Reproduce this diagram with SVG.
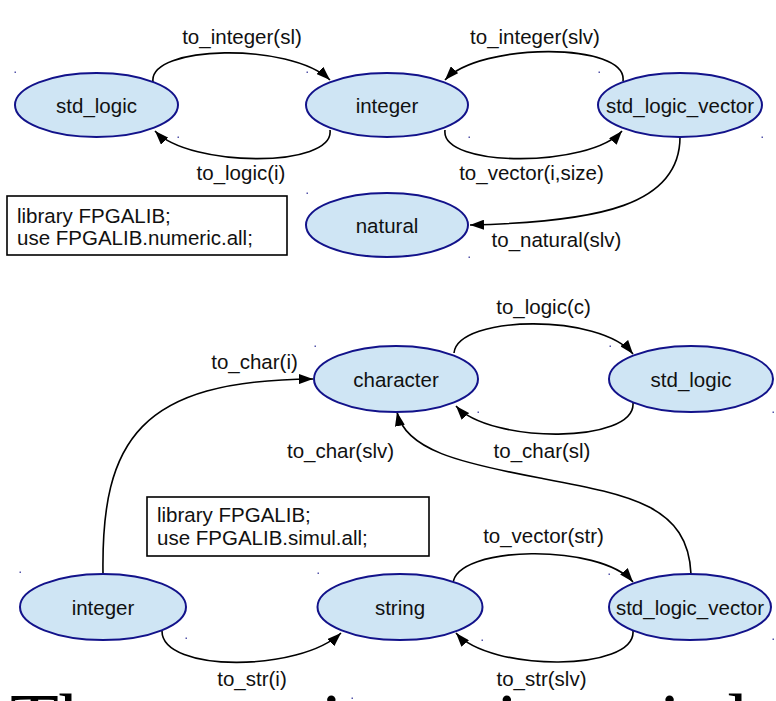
<svg xmlns="http://www.w3.org/2000/svg" width="776" height="701" viewBox="0 0 776 701">
<style>
.node ellipse{fill:#cfe5f4;stroke:#12128a;stroke-width:2}
.node rect.dot{fill:#5555aa}
text{font-family:"Liberation Sans",Arial,sans-serif;font-size:20.5px;fill:#111}
.lbl{text-anchor:middle}
.edges path{fill:none;stroke:#000;stroke-width:1.6}
.box rect{fill:#fff;stroke:#000;stroke-width:1.6}
.big{font-family:"Liberation Serif","Times New Roman",serif;font-size:80px;fill:#000}
</style>
<defs>
<marker id="arr" viewBox="0 0 14 10" refX="14" refY="5" markerWidth="14" markerHeight="10" markerUnits="userSpaceOnUse" orient="auto">
<path d="M0,0 L14,5 L0,10 z" fill="#000"/>
</marker>
</defs>
<rect width="776" height="701" fill="#fff"/>

<g class="edges" marker-end="url(#arr)">
<path id="e1" d="M153,82 C148,45 290,42 330,80"/>
<path id="e2" d="M330,130 C335,168 190,168 155,131"/>
<path id="e3" d="M623,81 C628,42 480,42 445,80"/>
<path id="e4" d="M445,130 C440,168 590,168 622,131"/>
<path id="e5" d="M680,137 C680,205 600,222 470,225"/>
<path id="e6" d="M454,353 C458,315 600,313 633,354"/>
<path id="e7" d="M633,403 C636,444 490,444 456,406"/>
<path id="e8" d="M103,574 C101,440 140,380 313,379"/>
<path id="e9" d="M691,574 C688,505 630,495 540,478 C460,463 405,450 397,412"/>
<path id="e10" d="M453,584 C455,545 600,543 633,582"/>
<path id="e11" d="M633,631 C636,672 490,672 456,633"/>
<path id="e12" d="M162,631 C162,673 300,672 341,633"/>
</g>

<g class="edge-labels">
<text class="lbl" x="242" y="44">to_integer(sl)</text>
<text class="lbl" x="241" y="180">to_logic(i)</text>
<text class="lbl" x="535" y="44">to_integer(slv)</text>
<text class="lbl" x="531.5" y="180">to_vector(i,size)</text>
<text class="lbl" x="556.5" y="247">to_natural(slv)</text>
<text class="lbl" x="543.5" y="314">to_logic(c)</text>
<text class="lbl" x="254.5" y="369">to_char(i)</text>
<text class="lbl" x="340.5" y="458">to_char(slv)</text>
<text class="lbl" x="542" y="458">to_char(sl)</text>
<text class="lbl" x="543.5" y="543">to_vector(str)</text>
<text class="lbl" x="252" y="686">to_str(i)</text>
<text class="lbl" x="541.5" y="686">to_str(slv)</text>
</g>

<g id="n_std_logic_top" class="node">
<ellipse cx="96.5" cy="105" rx="81.5" ry="32"/>
<text class="lbl" x="96.5" y="112.5">std_logic</text>
<rect class="dot" x="14.5" y="71.5" width="1.5" height="1.5"/>
<rect class="dot" x="177.5" y="136.5" width="1.5" height="1.5"/>
</g>
<g id="n_integer_top" class="node">
<ellipse cx="387" cy="105" rx="81" ry="32"/>
<text class="lbl" x="387" y="112.5">integer</text>
<rect class="dot" x="306.5" y="71.5" width="1.5" height="1.5"/>
<rect class="dot" x="468.5" y="136.5" width="1.5" height="1.5"/>
</g>
<g id="n_slv_top" class="node">
<ellipse cx="680" cy="105" rx="82" ry="32"/>
<text class="lbl" x="680" y="112.5">std_logic_vector</text>
<rect class="dot" x="598.5" y="71.5" width="1.5" height="1.5"/>
<rect class="dot" x="761.5" y="136.5" width="1.5" height="1.5"/>
</g>
<g id="n_natural" class="node">
<ellipse cx="387" cy="225" rx="81" ry="32"/>
<text class="lbl" x="387" y="232.5">natural</text>
<rect class="dot" x="306.5" y="192.5" width="1.5" height="1.5"/>
<rect class="dot" x="468.5" y="256.5" width="1.5" height="1.5"/>
</g>
<g id="box_numeric" class="box">
<rect x="7" y="196" width="280" height="59"/>
<text x="17" y="222.5">library FPGALIB;</text>
<text x="17" y="244.5">use FPGALIB.numeric.all;</text>
</g>

<g id="n_character" class="node">
<ellipse cx="396" cy="379" rx="82" ry="33"/>
<text class="lbl" x="396" y="386.5">character</text>
<rect class="dot" x="314.5" y="345.5" width="1.5" height="1.5"/>
<rect class="dot" x="477.5" y="411.5" width="1.5" height="1.5"/>
</g>
<g id="n_std_logic_bottom" class="node">
<ellipse cx="691" cy="379" rx="82" ry="33"/>
<text class="lbl" x="691" y="386.5">std_logic</text>
<rect class="dot" x="609.5" y="345.5" width="1.5" height="1.5"/>
<rect class="dot" x="772.5" y="411.5" width="1.5" height="1.5"/>
</g>
<g id="n_integer_bottom" class="node">
<ellipse cx="103" cy="607" rx="83" ry="33"/>
<text class="lbl" x="103" y="614.5">integer</text>
<rect class="dot" x="19.5" y="571.5" width="1.5" height="1.5"/>
<rect class="dot" x="185.5" y="637.5" width="1.5" height="1.5"/>
</g>
<g id="n_string" class="node">
<ellipse cx="400" cy="607" rx="82.5" ry="33"/>
<text class="lbl" x="400" y="614.5">string</text>
<rect class="dot" x="317.5" y="572.5" width="1.5" height="1.5"/>
<rect class="dot" x="481.5" y="639.5" width="1.5" height="1.5"/>
<rect class="dot" x="351.5" y="697.5" width="1.5" height="1.5"/>
</g>
<g id="n_slv_bottom" class="node">
<ellipse cx="690" cy="607" rx="81" ry="33"/>
<text class="lbl" x="690" y="614.5">std_logic_vector</text>
<rect class="dot" x="608.5" y="573.5" width="1.5" height="1.5"/>
<rect class="dot" x="772.5" y="638.5" width="1.5" height="1.5"/>
</g>
<g id="box_simul" class="box">
<rect x="147" y="497" width="282" height="59"/>
<text x="157" y="522">library FPGALIB;</text>
<text x="157" y="545">use FPGALIB.simul.all;</text>
</g>

<g id="page_text">
<text class="big" x="10" y="749">The</text>
<text class="big" x="223" y="749">main</text>
<text class="big" x="425" y="749">using</text>
<text class="big" x="659" y="749">is</text>
<text class="big" x="707" y="749">done</text>
</g>
</svg>
